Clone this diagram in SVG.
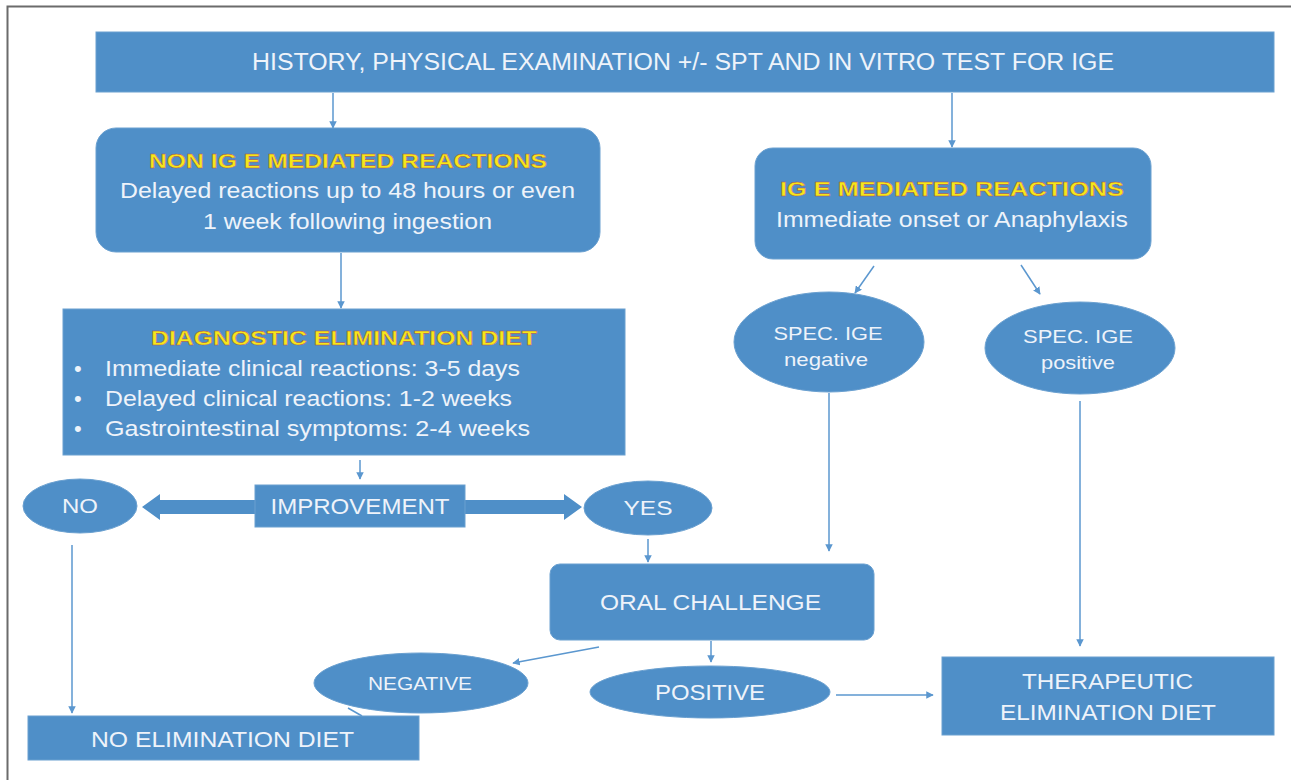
<svg xmlns="http://www.w3.org/2000/svg" width="1291" height="780" viewBox="0 0 1291 780">
<defs>
<style>
.box{fill:#4f8fc8;stroke:#6aa0d0;stroke-width:1}
.t{font-family:"Liberation Sans",Arial,sans-serif;fill:#eef3fa;text-anchor:middle}
.tl{font-family:"Liberation Sans",Arial,sans-serif;fill:#eef3fa;font-size:22px}
.ttl{font-family:"Liberation Sans",Arial,sans-serif;font-weight:bold;fill:#f4e81a;stroke:#b84848;stroke-width:0.4;text-anchor:middle;font-size:21px}
.c{stroke:#5b97cf;stroke-width:1.5;fill:none;marker-end:url(#ah)}
.ln{stroke:#5b97cf;stroke-width:1.5;fill:none}
.thick{fill:#4f8fc8}
</style>
<marker id="ah" viewBox="0 0 10 10" refX="9" refY="5" markerWidth="5" markerHeight="5" orient="auto-start-reverse">
<path d="M0,0 L10,5 L0,10 z" fill="#5b97cf"/>
</marker>
</defs>
<rect width="1291" height="780" fill="#ffffff"/>
<path d="M1291,6.5 H7.5 V780" stroke="#6b6b6b" stroke-width="2" fill="none"/>

<g id="connectors">
<line class="c" x1="333" y1="93" x2="333" y2="128"/>
<line class="c" x1="952" y1="93" x2="952" y2="147"/>
<line class="c" x1="341" y1="253" x2="341" y2="308"/>
<line class="c" x1="360" y1="460" x2="360" y2="479"/>
<path class="thick" d="M255,500 H160 V494 L142,507 L160,520 V514 H255 Z"/>
<path class="thick" d="M465,500 H564 V494 L582,507 L564,520 V514 H465 Z"/>
<line class="c" x1="72" y1="545" x2="72" y2="713"/>
<line class="c" x1="648" y1="539" x2="648" y2="562"/>
<line class="c" x1="829" y1="393" x2="829" y2="551"/>
<line class="c" x1="1080" y1="401" x2="1080" y2="646"/>
<line class="c" x1="874" y1="266" x2="855" y2="293"/>
<line class="c" x1="1021" y1="265" x2="1040" y2="294"/>
<line class="c" x1="599" y1="647" x2="513" y2="663"/>
<line class="c" x1="711" y1="641" x2="711" y2="662"/>
<line class="c" x1="836" y1="695" x2="933" y2="695"/>
<line class="ln" x1="348" y1="708" x2="362" y2="716"/>
</g>

<g id="history">
<rect class="box" x="96" y="32" width="1178" height="60"/>
<text class="t" x="683" y="70" font-size="23" textLength="862" lengthAdjust="spacingAndGlyphs">HISTORY, PHYSICAL EXAMINATION  +/- SPT AND IN VITRO TEST FOR IGE</text>
</g>

<g id="non-ige">
<rect class="box" x="96" y="128" width="504" height="124" rx="20"/>
<text class="ttl" x="348" y="168" textLength="398" lengthAdjust="spacingAndGlyphs">NON IG E MEDIATED REACTIONS</text>
<text class="t" x="347.5" y="198" font-size="22" textLength="455" lengthAdjust="spacingAndGlyphs">Delayed reactions up to 48 hours or even</text>
<text class="t" x="347.5" y="229" font-size="22" textLength="289" lengthAdjust="spacingAndGlyphs">1 week following ingestion</text>
</g>

<g id="diagnostic">
<rect class="box" x="63" y="309" width="562" height="146"/>
<text class="ttl" x="344" y="345" textLength="386" lengthAdjust="spacingAndGlyphs">DIAGNOSTIC ELIMINATION DIET</text>
<text class="tl" x="74" y="376">•</text><text class="tl" x="105" y="376" textLength="415" lengthAdjust="spacingAndGlyphs">Immediate clinical reactions: 3-5 days</text>
<text class="tl" x="74" y="406">•</text><text class="tl" x="105" y="406" textLength="407" lengthAdjust="spacingAndGlyphs">Delayed clinical reactions: 1-2 weeks</text>
<text class="tl" x="74" y="436">•</text><text class="tl" x="105" y="436" textLength="425" lengthAdjust="spacingAndGlyphs">Gastrointestinal symptoms: 2-4 weeks</text>
</g>

<g id="improvement">
<rect class="box" x="255" y="485" width="210" height="42"/>
<text class="t" x="360" y="514" font-size="22" textLength="179" lengthAdjust="spacingAndGlyphs">IMPROVEMENT</text>
</g>

<g id="no">
<ellipse class="box" cx="80" cy="506" rx="57" ry="27"/>
<text class="t" x="80" y="513" font-size="21" textLength="36" lengthAdjust="spacingAndGlyphs">NO</text>
</g>

<g id="yes">
<ellipse class="box" cx="648" cy="508" rx="64" ry="27"/>
<text class="t" x="648" y="515" font-size="21" textLength="49" lengthAdjust="spacingAndGlyphs">YES</text>
</g>

<g id="ige">
<rect class="box" x="755" y="148" width="396" height="111" rx="18"/>
<text class="ttl" x="952" y="196" textLength="344" lengthAdjust="spacingAndGlyphs">IG E  MEDIATED REACTIONS</text>
<text class="t" x="952" y="227" font-size="22" textLength="352" lengthAdjust="spacingAndGlyphs">Immediate onset or Anaphylaxis</text>
</g>

<g id="spec-neg">
<ellipse class="box" cx="829" cy="342" rx="95" ry="50"/>
<text class="t" x="828" y="340" font-size="19" textLength="109" lengthAdjust="spacingAndGlyphs">SPEC. IGE</text>
<text class="t" x="826" y="366" font-size="19" textLength="84" lengthAdjust="spacingAndGlyphs">negative</text>
</g>

<g id="spec-pos">
<ellipse class="box" cx="1080" cy="348" rx="95" ry="46"/>
<text class="t" x="1078" y="343" font-size="19" textLength="110" lengthAdjust="spacingAndGlyphs">SPEC. IGE</text>
<text class="t" x="1078" y="369" font-size="19" textLength="74" lengthAdjust="spacingAndGlyphs">positive</text>
</g>

<g id="oral">
<rect class="box" x="550" y="564" width="324" height="76" rx="10"/>
<text class="t" x="710.5" y="610" font-size="22" textLength="221" lengthAdjust="spacingAndGlyphs">ORAL CHALLENGE</text>
</g>

<g id="negative">
<ellipse class="box" cx="421" cy="683" rx="107" ry="30"/>
<text class="t" x="420" y="690" font-size="19" textLength="104" lengthAdjust="spacingAndGlyphs">NEGATIVE</text>
</g>

<g id="positive">
<ellipse class="box" cx="710" cy="692" rx="120" ry="26"/>
<text class="t" x="710" y="700" font-size="22" textLength="110" lengthAdjust="spacingAndGlyphs">POSITIVE</text>
</g>

<g id="no-elim">
<rect class="box" x="28" y="716" width="391" height="44"/>
<text class="t" x="222.5" y="747" font-size="22" textLength="263" lengthAdjust="spacingAndGlyphs">NO ELIMINATION  DIET</text>
</g>

<g id="therapeutic">
<rect class="box" x="942" y="657" width="332" height="78"/>
<text class="t" x="1107.5" y="689" font-size="22" textLength="171" lengthAdjust="spacingAndGlyphs">THERAPEUTIC</text>
<text class="t" x="1108" y="720" font-size="22" textLength="216" lengthAdjust="spacingAndGlyphs">ELIMINATION  DIET</text>
</g>
</svg>
